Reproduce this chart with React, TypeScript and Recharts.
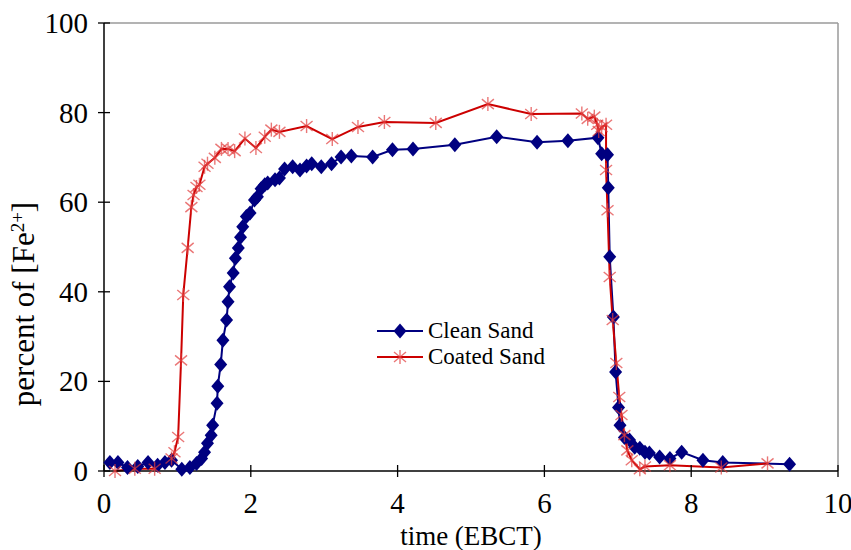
import React from "react";
import { LineChart, Line, XAxis, YAxis, ReferenceLine, Legend, Label } from "recharts";

// Clean sand (blue diamonds)
const cleanTime = [
  0.08, 0.19, 0.32, 0.46, 0.6, 0.73, 0.83, 0.92, 1.06, 1.17, 1.26, 1.33, 1.37, 1.41, 1.46, 1.48, 1.54, 1.55,
  1.59, 1.62, 1.67, 1.69, 1.71, 1.76, 1.79, 1.83, 1.86, 1.89, 1.94, 1.99, 2.05, 2.09, 2.14, 2.19, 2.23, 2.33,
  2.39, 2.46, 2.57, 2.67, 2.76, 2.83, 2.96, 3.1, 3.23, 3.37, 3.66, 3.93, 4.21, 4.78, 5.35, 5.9, 6.32, 6.73,
  6.78, 6.86, 6.87, 6.89, 6.94, 6.97, 7.01, 7.03, 7.09, 7.16, 7.23, 7.3, 7.37, 7.43, 7.57, 7.71, 7.87, 8.16,
  8.43, 9.34,
];
const cleanPct = [
  1.9, 1.9, 0.8, 1.0, 1.9, 1.3, 1.9, 2.4, 0.4, 0.8, 1.7, 2.8, 4.2, 6.2, 8.0, 10.2, 15.1, 18.9,
  23.8, 29.2, 33.7, 37.8, 41.1, 44.2, 47.5, 49.8, 52.2, 54.5, 56.8, 57.6, 60.5, 61.2, 63.0, 63.9, 64.3, 65.0,
  65.4, 67.4, 67.9, 67.2, 68.1, 68.6, 67.9, 68.6, 70.1, 70.3, 70.1, 71.7, 71.9, 72.8, 74.6, 73.4, 73.7, 74.4,
  70.8, 70.6, 63.2, 47.8, 34.4, 22.1, 14.2, 10.2, 7.5, 6.9, 5.3, 5.1, 4.2, 4.0, 3.1, 2.8, 4.2, 2.4,
  1.9, 1.5,
];

// Coated sand (red asterisks)
const coatedTime = [
  0.15, 0.42, 0.69, 0.92, 0.96, 1.01, 1.05, 1.08, 1.14, 1.19, 1.22, 1.26, 1.3, 1.37, 1.41, 1.51, 1.6, 1.69,
  1.78, 1.92, 2.07, 2.19, 2.28, 2.39, 2.76, 3.11, 3.46, 3.82, 4.52, 5.23, 5.82, 6.51, 6.59, 6.68, 6.72, 6.74,
  6.78, 6.84, 6.84, 6.86, 6.89, 6.93, 6.98, 7.02, 7.05, 7.09, 7.13, 7.19, 7.3, 7.37, 7.71, 8.41, 9.04,
];
const coatedPct = [
  0, 0.5, 0.5, 2.8, 4.2, 7.6, 24.7, 39.3, 49.8, 58.9, 61.6, 63.4, 63.9, 67.9, 68.6, 69.9, 71.9, 71.9,
  71.4, 74.2, 72.1, 74.6, 76.2, 75.7, 77.0, 74.1, 76.8, 77.9, 77.7, 81.9, 79.7, 79.8, 78.6, 79.1, 77.3, 75.9,
  76.8, 77.3, 67.2, 58.2, 43.3, 33.7, 24.1, 16.5, 12.5, 8.0, 4.6, 2.4, 0.4, 1.0, 1.3, 0.8, 1.7,
];

const xTicks = [0, 2, 4, 6, 8, 10];
const yTicks = [0, 20, 40, 60, 80, 100];

const cleanData = cleanTime.map((t, i) => ({ t, v: cleanPct[i] }));
const coatedData = coatedTime.map((t, i) => ({ t, v: coatedPct[i] }));

const FONT = "'Liberation Serif', Tinos, 'Times New Roman', Times, 'DejaVu Serif', serif";
const BLUE = "#000080";
const RED = "#cc0000";
const STAR = "rgba(225, 60, 60, 0.7)";

const Diamond = ({ cx, cy }: { cx: number; cy: number }) => (
  <polygon points={`${cx},${cy - 7.5} ${cx + 6.5},${cy} ${cx},${cy + 7.5} ${cx - 6.5},${cy}`} fill={BLUE} />
);

const Star = ({ cx, cy }: { cx: number; cy: number }) => (
  <g stroke={STAR} strokeWidth={1.4}>
    <line x1={cx} y1={cy - 7} x2={cx} y2={cy + 7} />
    <line x1={cx - 6} y1={cy - 5} x2={cx + 6} y2={cy + 5} />
    <line x1={cx - 6} y1={cy + 5} x2={cx + 6} y2={cy - 5} />
  </g>
);

const XTick = ({ x, y, payload }: any) => (
  <g>
    <line x1={x} y1={y - 12} x2={x} y2={y} stroke="#000" strokeWidth={1.3} />
    <text x={x} y={y + 36} textAnchor="middle" style={{ fontFamily: FONT, fontSize: 29 }} fill="#000">
      {payload.value}
    </text>
  </g>
);

const YTick = ({ x, y, payload }: any) => (
  <g>
    <line x1={x} y1={y} x2={x + 12} y2={y} stroke="#000" strokeWidth={1.3} />
    <text x={x - 10} y={y + 10} textAnchor="end" style={{ fontFamily: FONT, fontSize: 29 }} fill="#000">
      {payload.value}
    </text>
  </g>
);

const XTitle = () => (
  <text x={471} y={545} textAnchor="middle" style={{ fontFamily: FONT, fontSize: 27 }} fill="#000">
    time (EBCT)
  </text>
);

const YTitle = () => (
  <text
    x={34}
    y={304}
    transform="rotate(-90, 34, 304)"
    textAnchor="middle"
    style={{ fontFamily: FONT, fontSize: 31 }}
    fill="#000"
  >
    percent of [Fe
    <tspan baselineShift="super" style={{ fontSize: 19 }}>
      2+
    </tspan>
    ]
  </text>
);

const LegendBox = () => (
  <div style={{ fontFamily: FONT, fontSize: 23, color: "#000", lineHeight: "26px" }}>
    <div style={{ display: "flex", alignItems: "center" }}>
      <svg width={51} height={26}>
        <line x1={0} y1={13} x2={46} y2={13} stroke={BLUE} strokeWidth={2} />
        <Diamond cx={23} cy={13} />
      </svg>
      <span>Clean Sand</span>
    </div>
    <div style={{ display: "flex", alignItems: "center" }}>
      <svg width={51} height={26}>
        <line x1={0} y1={13} x2={46} y2={13} stroke={RED} strokeWidth={2} />
        <Star cx={23} cy={13} />
      </svg>
      <span>Coated Sand</span>
    </div>
  </div>
);

export default function App() {
  return (
    <div style={{ position: "absolute", left: 0, top: 0, width: 851, height: 550, background: "#fff" }}>
      <LineChart width={851} height={550} margin={{ top: 23, right: 13, bottom: 49, left: 44 }}>
        <XAxis
          type="number"
          dataKey="t"
          domain={[0, 10]}
          ticks={xTicks}
          height={30}
          tickSize={6}
          tickMargin={0}
          tickLine={false}
          tick={<XTick />}
          stroke="#000"
          strokeWidth={1.5}
          allowDuplicatedCategory={false}
        >
          <Label content={<XTitle />} />
        </XAxis>
        <YAxis
          type="number"
          domain={[0, 100]}
          ticks={yTicks}
          width={60}
          tickSize={6}
          tickMargin={0}
          tickLine={false}
          tick={<YTick />}
          stroke="#000"
          strokeWidth={1.5}
        >
          <Label content={<YTitle />} />
        </YAxis>
        <ReferenceLine y={100} stroke="#9a9a9a" strokeWidth={1.5} />
        <ReferenceLine x={10} stroke="#9a9a9a" strokeWidth={1.5} />
        <Legend
          layout="vertical"
          align="center"
          verticalAlign="middle"
          content={<LegendBox />}
          wrapperStyle={{ left: 377, top: 318, width: 220 }}
        />
        <Line
          data={cleanData}
          dataKey="v"
          name="Clean Sand"
          type="linear"
          stroke={BLUE}
          strokeWidth={2}
          dot={(p: any) => <Diamond key={`c${p.index}`} cx={p.cx} cy={p.cy} />}
          isAnimationActive={false}
        />
        <Line
          data={coatedData}
          dataKey="v"
          name="Coated Sand"
          type="linear"
          stroke={RED}
          strokeWidth={2}
          dot={(p: any) => <Star key={`s${p.index}`} cx={p.cx} cy={p.cy} />}
          isAnimationActive={false}
        />
      </LineChart>
    </div>
  );
}
